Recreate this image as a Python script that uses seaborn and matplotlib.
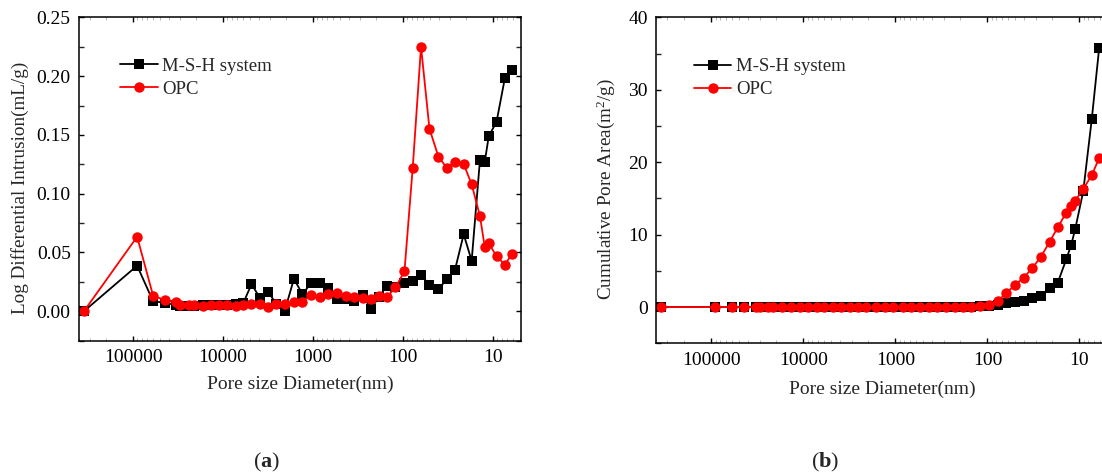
import matplotlib
matplotlib.use("Agg")
import matplotlib.pyplot as plt
import matplotlib.ticker as mticker
import numpy as np
import pandas as pd
import seaborn as sns

# Pore diameters (nm) shared by both measurements
diameter = [353000, 90300, 60000, 44600, 33100, 29900, 24200, 21300, 16900, 13600,
            11000, 8930, 7200, 5980, 4830, 3900, 3150, 2550, 2070, 1630,
            1310, 1050, 836, 676, 546, 431, 351, 281, 227, 184,
            150, 121, 96.1, 77.8, 62.9, 50.7, 40.3, 32.6, 26.4, 21.1,
            17.2, 13.9, 12.3, 11.1, 9.1, 7.36, 6.12]

# Log differential intrusion (mL/g)
msh_intrusion = [0.0, 0.0388, 0.0085, 0.0073, 0.0054, 0.0045, 0.0045, 0.0045, 0.0050, 0.0050,
                 0.0050, 0.0050, 0.0063, 0.0068, 0.0230, 0.0116, 0.0167, 0.0060, 0.0, 0.0275,
                 0.0147, 0.0238, 0.0238, 0.0196, 0.0105, 0.0105, 0.0088, 0.0140, 0.0020, 0.0124,
                 0.0218, 0.0210, 0.0243, 0.0260, 0.0309, 0.0226, 0.0187, 0.0272, 0.0351, 0.0655,
                 0.0430, 0.1290, 0.1270, 0.1490, 0.1610, 0.1980, 0.2050]
opc_intrusion = [0.0, 0.0634, 0.0133, 0.0096, 0.0077, 0.0051, 0.0051, 0.0054, 0.0048, 0.0051,
                 0.0051, 0.0051, 0.0045, 0.0054, 0.0065, 0.0060, 0.0034, 0.0060, 0.0060, 0.0077,
                 0.0079, 0.0139, 0.0119, 0.0145, 0.0156, 0.0133, 0.0124, 0.0116, 0.0107, 0.0128,
                 0.0122, 0.0204, 0.0340, 0.1221, 0.2250, 0.1553, 0.1315, 0.1221, 0.1272, 0.1252,
                 0.1080, 0.0808, 0.0547, 0.0578, 0.0468, 0.0396, 0.0487]

# Cumulative pore area (m2/g)
msh_area = [0.0] * 30 + [0.05, 0.10, 0.20, 0.32, 0.55, 0.64, 0.87, 1.19, 1.56, 2.62,
                         3.39, 6.62, 8.59, 10.84, 16.0, 25.9, 35.7]
opc_area = [0.0] * 29 + [0.03, 0.06, 0.15, 0.30, 0.77, 1.93, 2.98, 4.08, 5.38, 6.90, 9.00,
                         11.03, 13.05, 13.90, 14.70, 16.30, 18.20, 20.55]

series_names = ["M-S-H system", "OPC"]
series_colors = ["black", "#ff0000"]
series_markers = ["s", "o"]
x_ticks = [100000, 10000, 1000, 100, 10]

sns.set_theme(style="ticks")
plt.rcParams["font.family"] = ["Liberation Serif", "DejaVu Serif"]
plt.rcParams["mathtext.fontset"] = "custom"
plt.rcParams["mathtext.rm"] = "Liberation Serif"
plt.rcParams["mathtext.it"] = "Liberation Serif:italic"
plt.rcParams["mathtext.bf"] = "Liberation Serif:bold"

FS = 14

fig = plt.figure(figsize=(11.02, 4.74), dpi=100)
ax_a = fig.add_axes([79 / 1102, 1 - 340.7 / 474, 441.7 / 1102, 323.4 / 474])
ax_b = fig.add_axes([656 / 1102, 1 - 343.3 / 474, 452 / 1102, 326.0 / 474])

df_a = pd.DataFrame({"d": diameter * 2,
                     "v": msh_intrusion + opc_intrusion,
                     "s": [series_names[0]] * len(diameter) + [series_names[1]] * len(diameter)})
df_b = pd.DataFrame({"d": diameter * 2,
                     "v": msh_area + opc_area,
                     "s": [series_names[0]] * len(diameter) + [series_names[1]] * len(diameter)})


def draw(ax, df, ylim, ymajor, yminor, ylabel, legend_xy, xlabelpad, right_ticks=True):
    for name, col, mk in zip(series_names, series_colors, series_markers):
        sub = df[df["s"] == name]
        sns.lineplot(data=sub, x="d", y="v", ax=ax, color=col, marker=mk,
                     markersize=7.5 if mk == "o" else 6.5, markeredgewidth=0,
                     linewidth=1.3, estimator=None, sort=False, label=name)
    ax.set_xscale("log")
    ax.set_xlim(4.0e5, 4.9)
    ax.set_ylim(*ylim)
    ax.xaxis.set_major_locator(mticker.FixedLocator(x_ticks))
    ax.xaxis.set_major_formatter(mticker.FixedFormatter([str(t) for t in x_ticks]))
    ax.xaxis.set_minor_locator(mticker.LogLocator(base=10, subs=np.arange(2, 10)))
    ax.xaxis.set_minor_formatter(mticker.NullFormatter())
    ax.yaxis.set_major_locator(mticker.MultipleLocator(ymajor))
    ax.yaxis.set_minor_locator(mticker.MultipleLocator(yminor))
    ax.tick_params(axis="both", which="major", direction="in", length=3.6, width=1.0,
                   top=True, right=right_ticks, labelsize=FS, colors="black", pad=6)
    ax.tick_params(axis="y", which="minor", direction="in", length=3.6, width=1.0,
                   left=True, right=right_ticks)
    ax.tick_params(axis="x", which="minor", direction="in", length=2.0, width=0.6,
                   top=True, bottom=True, color="#aaaaaa")
    for sp in ax.spines.values():
        sp.set_linewidth(1.1)
        sp.set_color("black")
    ax.set_xlabel("Pore size Diameter(nm)", fontsize=FS, labelpad=xlabelpad)
    ax.set_ylabel(ylabel, fontsize=13.8, labelpad=4)
    ax.yaxis.set_label_coords(ax.yaxis.label.get_position()[0], 0.472)
    ax.legend(loc="upper left", bbox_to_anchor=legend_xy, frameon=False,
              fontsize=13.5, borderaxespad=0, borderpad=0, handlelength=2.0,
              handletextpad=0.25, labelspacing=0.32)


draw(ax_a, df_a, (-0.025, 0.25), 0.05, 0.025,
     "Log Differential Intrusion(mL/g)", (0.093, 0.875), 7)
ax_a.yaxis.set_major_formatter(mticker.FormatStrFormatter("%.2f"))

draw(ax_b, df_b, (-5, 40), 10, 5,
     r"Cumulative Pore Area(m$^{2}$/g)", (0.084, 0.875), 9, right_ticks=False)
ax_b.yaxis.set_major_formatter(mticker.FormatStrFormatter("%d"))

# Re-anchor the y labels horizontally next to their tick labels
fig.canvas.draw()
for ax, xpix in ((ax_a, 20), (ax_b, 606)):
    bbox = ax.get_window_extent()
    xa = (xpix - bbox.x0) / bbox.width
    ax.yaxis.set_label_coords(xa, 0.472)
    ax.yaxis.label.set_va("center")

fig.text(267 / 1102, 1 - 462 / 474, r"($\mathbf{a}$)", ha="center", va="center", fontsize=16)
fig.text(825 / 1102, 1 - 462 / 474, r"($\mathbf{b}$)", ha="center", va="center", fontsize=16)

fig.savefig("out.png", dpi=100)
